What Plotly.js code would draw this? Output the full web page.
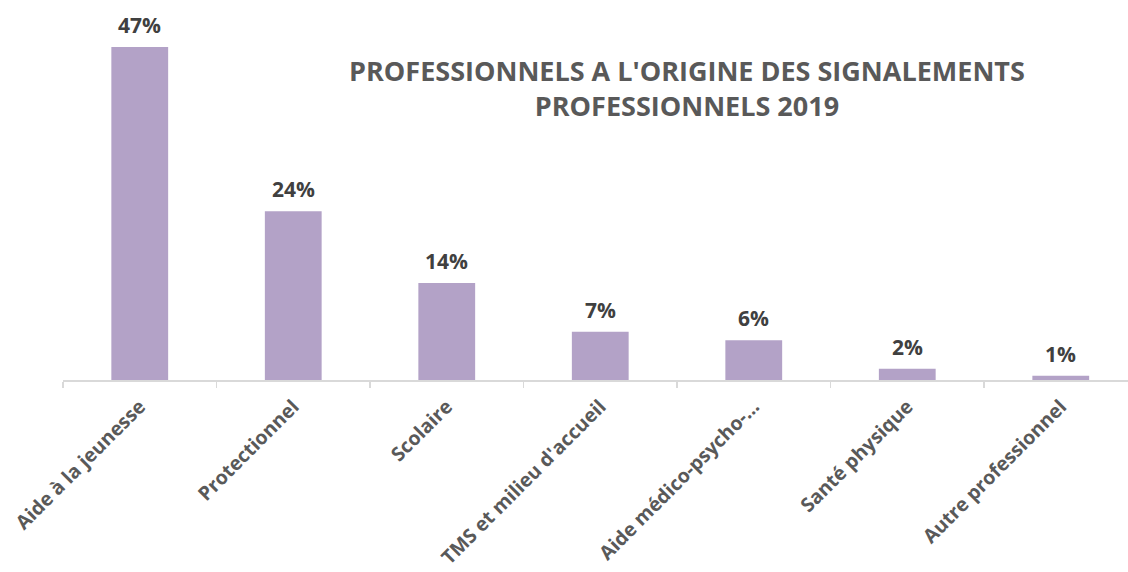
<!DOCTYPE html>
<html>
<head>
<meta charset="utf-8">
<script src="https://cdn.plot.ly/plotly-3.0.1.min.js"></script>
<style>html,body{margin:0;padding:0;overflow:hidden;background:#fff}</style>
</head>
<body>
<div id="chart" style="width:1128px;height:572px"></div>
<script>
const categories = ["Aide à la jeunesse", "Protectionnel", "Scolaire", "TMS et milieu d'accueil", "Aide médico-psycho-…", "Santé physique", "Autre professionnel"];
const values = [47.0, 23.8, 13.7, 6.8, 5.6, 1.6, 0.6];
const labels = ["47%", "24%", "14%", "7%", "6%", "2%", "1%"];
const titleText = "PROFESSIONNELS A L'ORIGINE DES SIGNALEMENTS<br>PROFESSIONNELS 2019";

const trace = {
  type: 'bar',
  x: categories,
  y: values,
  marker: {color: '#b3a2c7'},
  hoverinfo: 'none'
};

const annotations = categories.map((c, i) => ({
  x: c, y: values[i], xref: 'x', yref: 'y',
  text: labels[i], showarrow: false,
  xanchor: 'center', yanchor: 'bottom', yshift: 6,
  font: {family: 'Open Sans', size: 21, color: '#404040', weight: 'bold'}
}));

const layout = {
  width: 1128, height: 572,
  margin: {l: 63, r: 0, t: 20, b: 192},
  paper_bgcolor: '#fff', plot_bgcolor: '#fff',
  bargap: 0.63,
  showlegend: false,
  annotations: annotations,
  title: {
    text: titleText,
    font: {family: 'Open Sans', size: 27, color: '#595959', weight: 'bold'},
    x: 0.609, xanchor: 'center', xref: 'container',
    y: 0.858, yanchor: 'middle', yref: 'container'
  },
  xaxis: {
    type: 'category',
    range: [-0.5, 6.438],
    showline: true, linecolor: '#d9d9d9', linewidth: 1.5,
    ticks: 'outside', tickson: 'boundaries', ticklen: 6, tickcolor: '#d9d9d9', tickwidth: 1.5,
    tickangle: -45,
    ticklabelstandoff: 6,
    tickfont: {family: 'Open Sans', size: 19.5, color: '#595959', weight: 'bold'},
    showgrid: false, zeroline: false, fixedrange: true
  },
  yaxis: {
    range: [0, 50.8],
    visible: false, showgrid: false, zeroline: false, fixedrange: true
  }
};

Plotly.newPlot('chart', [trace], layout, {displayModeBar: false, staticPlot: true});
</script>
</body>
</html>
